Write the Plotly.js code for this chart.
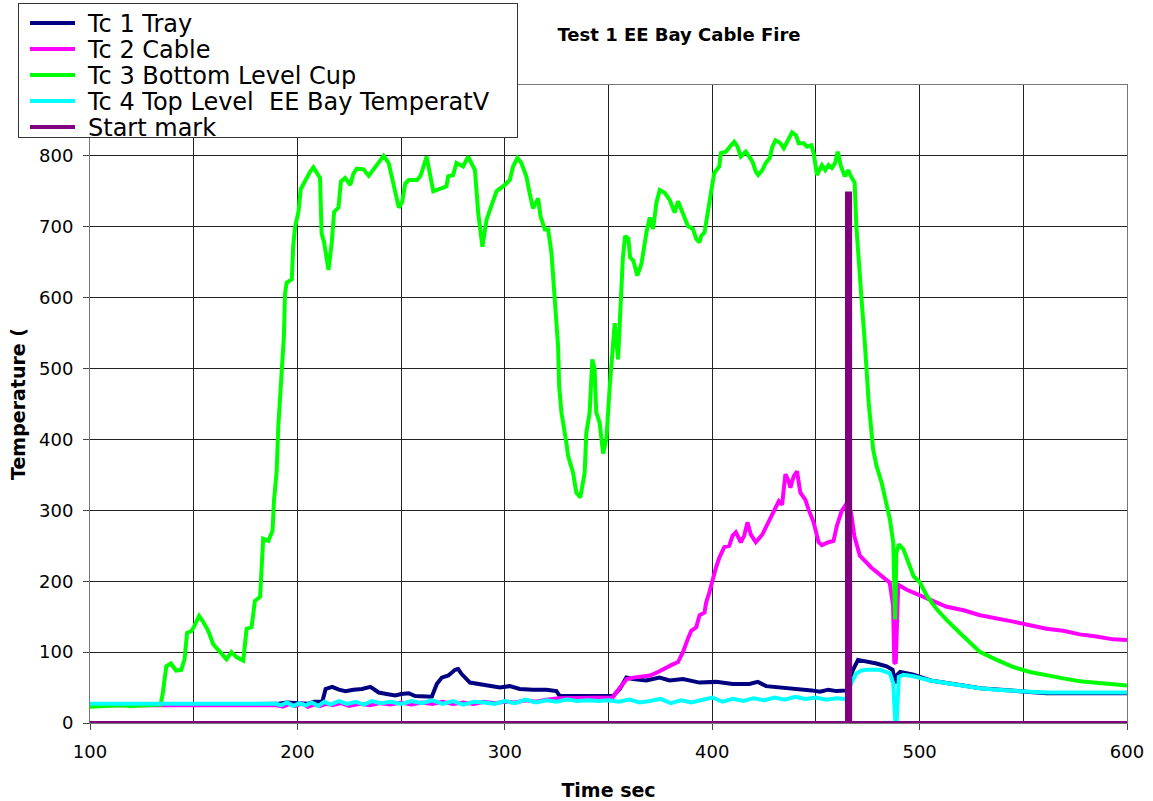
<!DOCTYPE html>
<html>
<head>
<meta charset="utf-8">
<script src="https://cdn.plot.ly/plotly-3.0.1.min.js"></script>
<style>html,body{margin:0;padding:0;background:#fff;}#chart{width:1153px;height:801px;}</style>
</head>
<body>
<div id="chart"></div>
<script>
// ---- Data ----
const seriesNames = ["Tc 1 Tray", "Tc 2 Cable", "Tc 3 Bottom Level Cup", "Tc 4 Top Level  EE Bay TemperatV", "Start mark"];

// Tc 1 Tray
const tc1Time = [100,120,140,160,180,190,195,200,205,208,212,213.6,216.8,220,223.2,227,231.2,235.2,239.2,243,247.2,250,253.6,256.8,261,264.8,267.2,269.6,272.8,276,277.5,279.2,283.2,287.2,291.2,297.6,302.4,307.2,313.6,320.1,324.9,326.5,340,352.2,355.4,358.6,361.8,368.2,374.6,379.5,385.9,393.9,401.9,409.9,417.9,422,426,434,442,448,452,456,460,464,465,466,467.9,470.3,474.4,479.2,484.1,487,488.1,489.2,490.6,497.1,505.2,513.1,521,529.2,537,545.2,553,561.2,569,577.2,585,593.3,600];
const tc1Temp = [26,26,26,26,26,27,29,28,27,30,30,48,51,47,45,47,48,51,43,41,39,41,42,38,37,37,55,64,67,75,76,69,57,55,52,50,52,48,47,47,45,38,38,38,48,64,62,60,64,60,62,57,58,55,55,58,52,50,48,46,44,47,45,46,46,60,75,89,87,84,80,75,56,68,72,68,60,57,53,49,47,45,43,42,42,42,41,41,42];

// Tc 2 Cable
const tc2Time = [100,150,190,193,196,199,202,205,208,211,214,217,221,225,230,235,240,245,250,255,260,265,270,275,280,285,290,295,300,305,310,315,320,326,340,352,355,358.8,362,366.7,370,373.9,377.9,380.5,383.5,385.9,388.3,389.9,392.3,393.9,396.3,397.1,398.6,400.2,401.8,403.4,405.8,408.2,409.8,411.4,413.8,415.4,417,418.6,421,424.2,425.8,428.1,430.5,432.1,433.7,435.3,436.9,437.7,439.3,440.9,442.5,444.9,446.5,448.9,451.3,452.9,456.1,458.5,460.1,462.4,465.6,467.2,468.5,471.2,476.8,483.2,485.6,487.2,487.8,488.5,489.7,493.8,500,505,513.1,521.2,529.2,537.2,545.2,553.2,561.2,569.2,577.2,585.3,593.3,600];
const tc2Temp = [25,25,25,23,27,24,28,23,26,24,27,25,28,24,27,25,28,26,29,26,29,27,30,27,29,27,30,28,30,29,32,30,33,35,35,36,48,62,64,66,67,72,79,82,86,100,119,130,135,152,156,170,184,203,219,233,248,250,264,269,255,264,283,266,255,266,276,290,306,313,308,351,341,332,348,355,325,315,301,283,255,251,255,257,278,299,313,292,264,236,219,205,198,166,86,84,195,188,181,174,164,159,152,148,143,138,133,130,125,122,118,117];

// Tc 3 Bottom Level Cup
const tc3Time = [100,105,110,115,120,125,130,134,135,136.8,139,141.5,144,145.6,146.8,149,150.5,152.6,154.5,157,159.4,162.6,165.8,168.2,170.6,173.9,175.5,177.9,179.5,182,182.7,183.5,186,188,188.7,190,190.8,191.6,192.9,193.5,194,194.8,197.3,198,198.9,200.5,201.6,202.9,204.5,206,207.7,209.3,210.9,211.7,212.8,215,216.6,217.7,219.8,221,223,225.5,227,228.7,231.9,234.4,237.6,241.6,244,245.6,247.3,248.9,250.5,252,253.7,257.7,259.4,262.3,265.5,268.7,271.9,272.7,275.1,276.7,279.9,282.3,285.6,287.2,289.2,291.2,293.6,296,300,302.4,304,306.1,308,310.4,312,313.6,316.1,317.2,319.3,320.9,322.5,324.1,324.9,325.7,326.2,327.3,329.7,330.5,332.9,334.5,336.4,338.5,339.3,340.9,342.2,343.3,344.1,345.7,347.4,349,350.6,352.2,353,354.6,355.6,356.9,358,359.6,360.4,362,363.9,365.9,368.3,369.9,371.5,373.1,374.7,377.1,379.5,381.9,383.5,385.9,388.3,390.7,392.3,393.9,394.7,396.3,397.8,399.4,401,403.4,404.2,406.6,408.5,410.6,412.2,413.8,416.2,417.8,419.4,421,422.2,424.2,425.8,427.7,429,430.5,432.9,434.5,436.1,438.5,440.4,441.7,444.1,445.7,447.8,448.9,450.5,452.9,454.5,456.1,457.7,459.3,460.5,462.1,464,465.6,466.9,468.7,469.5,470.3,471.1,472.2,473.5,474.5,475.5,477.6,479.2,481.7,484.1,485.7,487.3,487.8,488.2,488.8,490,492.2,494.6,497.1,500,503.6,508.4,513.1,521.2,529.2,537.2,545.2,553.2,561.2,569.2,577.2,585.3,593.3,600];
const tc3Temp = [23,24,24,25,24,25,25,26,40,80,84,74,75,90,127,130,138,151,143,130,111,101,90,100,93,88,133,135,172,178,212,260,257,271,313,355,419,451,504,546,605,621,626,674,700,721,753,761,769,777,784,777,769,690,679,639,679,721,727,764,769,759,775,782,781,772,785,800,790,769,748,727,735,761,766,766,772,799,750,754,757,771,773,790,785,799,780,719,672,710,729,750,759,766,785,797,790,771,747,726,740,715,696,696,663,588,569,531,475,438,395,377,353,325,318,353,409,438,513,499,438,424,380,401,475,545,564,513,571,655,687,683,657,652,631,648,692,713,697,734,752,748,738,720,736,720,701,697,683,678,687,692,724,748,776,785,804,806,813,820,813,799,806,799,792,778,773,780,790,797,813,822,818,811,820,833,829,818,818,813,815,804,773,787,780,787,783,790,806,785,771,780,771,762,701,664,627,590,540,500,450,386,363,339,306,287,254,210,146,240,252,245,226,207,199,179,160,145,122,100,89,79,72,67,63,59,57,55,53];

// Tc 4 Top Level EE Bay
const tc4Time = [100,150,190,192,195,198,201,204,207,210,213,216,220,224,228,232,236,240,245,250,255,260,265,270,275,280,285,290,295,300,305,310,315,320,325,330,335,340,345,350,355,360,365,370,375,380,385,390,395,400,405,410,415,420,425,430,435,440,445,450,455,460,464,465,467,469.5,472,474.4,480.8,485.7,487.3,488,488.3,488.9,489.5,490,492.2,497,505,513,521,529,537,545,553,561,569,577,585,593,600];
const tc4Temp = [27,27,27,25,29,24,28,25,29,24,30,26,31,27,30,26,31,28,30,27,31,28,32,27,31,26,30,29,27,31,28,33,29,32,30,33,31,32,31,32,30,33,29,31,34,28,32,29,33,36,30,34,31,35,32,36,33,37,34,36,33,35,34,36,56,70,74,75,75,70,56,20,0,0,40,65,68,66,60,56,52,49,47,45,44,43,43,43,42,43,43];

// Start mark
const startTime = [100,465,465,466.5,466.5,600];
const startTemp = [0,0,747,747,0,0];

// Axis ticks
const xTicks = [100,200,300,400,500,600];
const yTicks = [0,100,200,300,400,500,600,700,800,900];

const colors = ["#000080","#ff00ff","#00ff00","#00ffff","#800080"];
const times = [tc1Time, tc2Time, tc3Time, tc4Time, startTime];
const temps = [tc1Temp, tc2Temp, tc3Temp, tc4Temp, startTemp];

const traces = seriesNames.map((n, i) => ({
  x: times[i], y: temps[i], name: n, type: "scatter", mode: "lines",
  line: {color: colors[i], width: 4}
}));

const font = "DejaVu Sans, Verdana, sans-serif";
const layout = {
  width: 1153, height: 801,
  margin: {l: 90, r: 26, t: 85, b: 78, autoexpand: false},
  paper_bgcolor: "#fff", plot_bgcolor: "#fff",
  font: {family: font, color: "#000"},
  showlegend: true,
  title: {text: "<b>Test 1 EE Bay Cable Fire</b>", font: {family: font, size: 18, color: "#000"},
          x: 0.568, xref: "paper", xanchor: "center", y: 0.957, yref: "container", yanchor: "middle"},
  xaxis: {
    range: [100, 600], tickvals: xTicks, ticks: "outside", ticklen: 6, tickcolor: "#444",
    tickfont: {size: 18, family: font}, ticklabelstandoff: 6,
    showgrid: true, gridcolor: "#222", gridwidth: 1,
    minor: {dtick: 50, showgrid: true, gridcolor: "#222", gridwidth: 1, ticks: ""},
    showline: true, linecolor: "#777", linewidth: 1, mirror: true, zeroline: false,
    title: {text: "<b>Time sec</b>", font: {size: 19, family: font}, standoff: 24}
  },
  yaxis: {
    range: [0, 900], tickvals: yTicks, ticks: "outside", ticklen: 6, tickcolor: "#444",
    tickfont: {size: 18, family: font}, ticklabelstandoff: 6,
    showgrid: true, gridcolor: "#222", gridwidth: 1,
    showline: true, linecolor: "#777", linewidth: 1, mirror: true, zeroline: false,
    title: {text: "<b>Temperature (</b>", font: {size: 19, family: font}, standoff: 8}
  },
  legend: {
    x: -0.0694, y: 1.1285, xanchor: "left", yanchor: "top",
    bgcolor: "#fff", bordercolor: "#333", borderwidth: 1,
    font: {size: 24, family: font, color: "#000"}, tracegroupgap: 0
  }
};

const gd = document.getElementById("chart");
Plotly.newPlot(gd, traces, layout, {displayModeBar: false, staticPlot: true}).then(function () {
  // Tighten the legend rows the way the original spreadsheet legend is packed.
  try {
    const leg = gd.querySelector("g.legend");
    if (!leg) return;
    const boxL = 18, boxT = 3, boxW = 499, boxH = 134, rowH = 26, firstRow = 20;
    leg.setAttribute("transform", "translate(" + boxL + "," + boxT + ")");
    const bg = leg.querySelector("rect.bg");
    if (bg) { bg.setAttribute("width", boxW); bg.setAttribute("height", boxH); }
    leg.querySelectorAll("g.traces").forEach(function (it, i) {
      it.setAttribute("transform", "translate(1," + (firstRow + i * rowH) + ")");
      const p = it.querySelector("path.js-line");
      if (p) p.setAttribute("d", "M11,0h45");
      const t = it.querySelector("text.legendtext");
      if (t) t.setAttribute("x", 69);
    });
    const sb = leg.querySelector("g.scrollbox");
    if (sb) {
      sb.setAttribute("transform", "translate(0,0)");
      const cp = sb.getAttribute("clip-path") || "";
      const m = /#([^)"']+)/.exec(cp);
      if (m) {
        const r = document.getElementById(m[1]) && document.getElementById(m[1]).querySelector("rect");
        if (r) { r.setAttribute("x", 0); r.setAttribute("y", 0); r.setAttribute("width", boxW); r.setAttribute("height", boxH - 1); }
      }
    }
  } catch (e) { /* keep default legend */ }
});
</script>
</body>
</html>
